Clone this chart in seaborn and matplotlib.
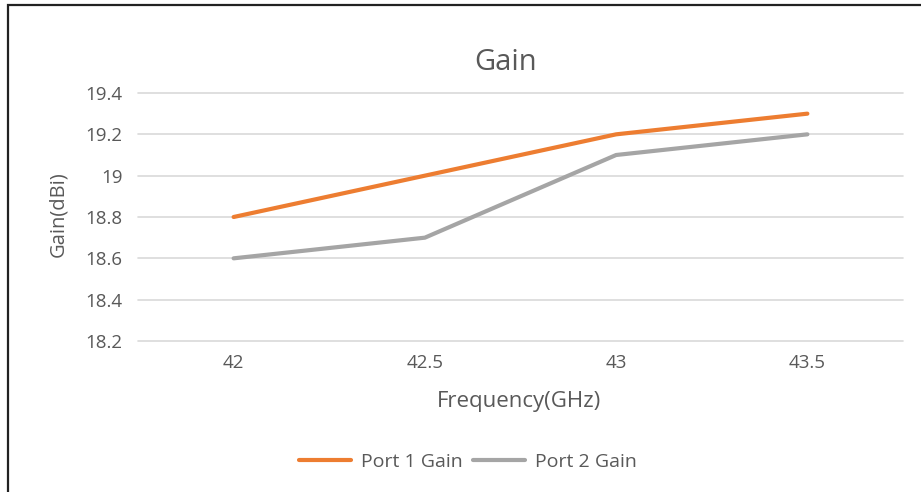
import pandas as pd
import matplotlib.pyplot as plt
import matplotlib.patches as mpatches
import seaborn as sns

# Data
frequencies = ["42", "42.5", "43", "43.5"]
port1_gain = [18.8, 19.0, 19.2, 19.3]
port2_gain = [18.6, 18.7, 19.1, 19.2]
series_names = ["Port 1 Gain", "Port 2 Gain"]
y_ticks = [18.2, 18.4, 18.6, 18.8, 19.0, 19.2, 19.4]
y_tick_labels = ["18.2", "18.4", "18.6", "18.8", "19", "19.2", "19.4"]


def main():
    df = pd.DataFrame({
        "Frequency": frequencies * 2,
        "Gain": port1_gain + port2_gain,
        "Series": [series_names[0]] * 4 + [series_names[1]] * 4,
    })

    sns.set_theme(style="white")
    plt.rcParams["font.family"] = ["Open Sans", "DejaVu Sans"]
    text_color = "#595959"
    W, H = 921, 492

    fig = plt.figure(figsize=(9.21, 4.92), dpi=100)
    ax = fig.add_axes([138 / W, 1 - 341 / H, 765 / W, 248 / H])

    palette = {"Port 1 Gain": "#ED7D31", "Port 2 Gain": "#A5A5A5"}
    sns.lineplot(data=df, x="Frequency", y="Gain", hue="Series",
                 palette=palette, linewidth=3, ax=ax, sort=False)

    ax.set_xlim(-0.5, 3.5)
    ax.set_ylim(18.2, 19.4)
    ax.set_yticks(y_ticks)
    ax.set_yticklabels(y_tick_labels)
    ax.yaxis.grid(True, color="#D9D9D9", linewidth=1.2)
    for gl in ax.get_ygridlines():
        gl.set_clip_on(False)
    ax.set_axisbelow(True)
    for s in ax.spines.values():
        s.set_visible(False)
    ax.tick_params(axis="both", length=0, labelsize=13.5, colors=text_color)
    ax.tick_params(axis="x", pad=9)
    ax.tick_params(axis="y", pad=11)
    ax.set_xlabel("")
    ax.set_ylabel("")

    fig.text(506 / W, 1 - 62 / H, "Gain", fontsize=21, color=text_color,
             ha="center", va="center")
    fig.text(519 / W, 1 - 402 / H, "Frequency(GHz)", fontsize=16,
             color=text_color, ha="center", va="center")
    fig.text(58 / W, 1 - 214 / H, "Gain(dBi)", fontsize=14.5, color=text_color,
             ha="center", va="center", rotation=90)

    ax.legend(loc="center", bbox_to_anchor=(0.431, -0.488), ncol=2, frameon=False,
              fontsize=14, handlelength=2.7, columnspacing=0.5, handletextpad=0.5,
              labelcolor=text_color)

    # frame around the picture
    border = mpatches.Rectangle((8 / W, -0.05), 1.0, 1 - 5 / H + 0.05,
                                transform=fig.transFigure, fill=False,
                                edgecolor="#222222", linewidth=1.6, clip_on=False)
    fig.patches.append(border)

    plt.savefig("out.png", dpi=100)


if __name__ == "__main__":
    main()
